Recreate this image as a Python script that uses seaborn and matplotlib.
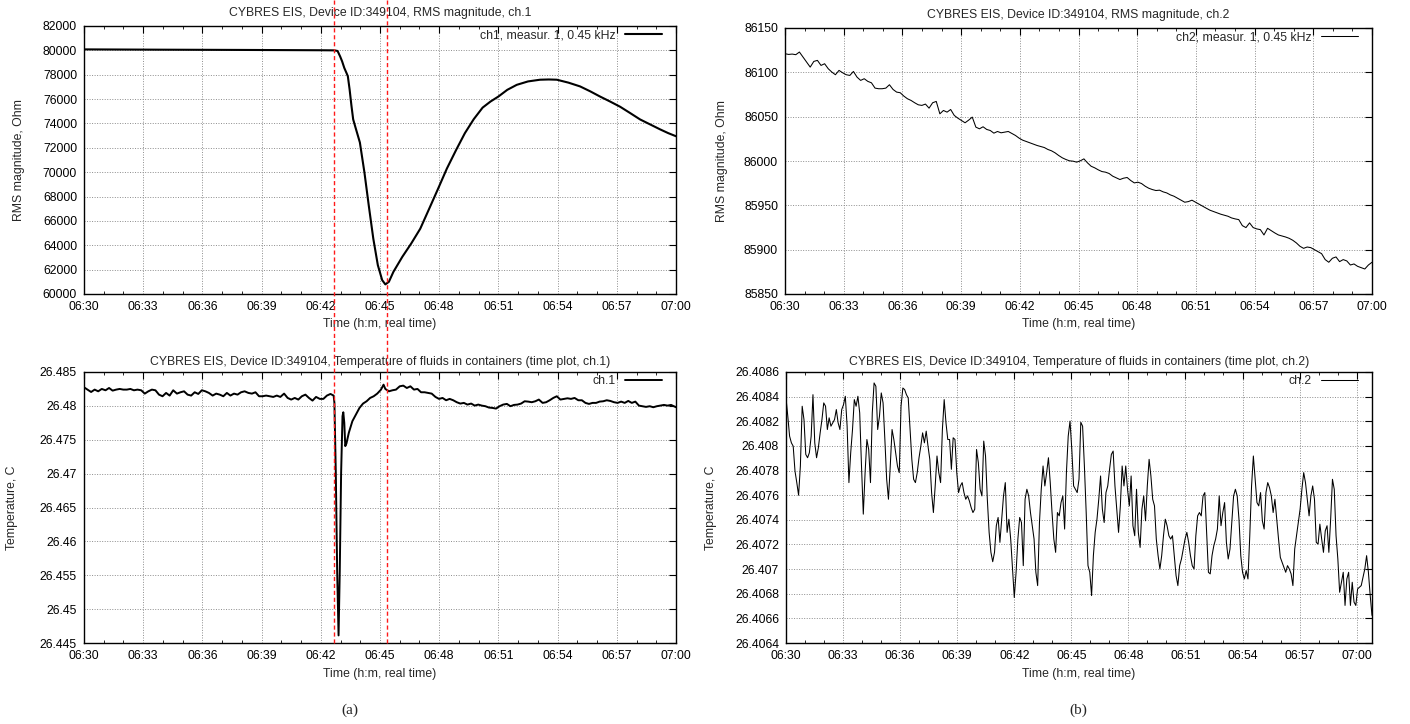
import numpy as np
import pandas as pd
import matplotlib
matplotlib.use("Agg")
import matplotlib.pyplot as plt
import matplotlib.dates as mdates
import matplotlib.ticker as mticker
import matplotlib.transforms as mtransforms
from matplotlib.lines import Line2D
import seaborn as sns

# ---------------- data ----------------
start_time = pd.Timestamp("2024-01-01 06:30:00")

# ch.1 RMS magnitude, minutes after 06:30
ch1_rms_min = [0.00, 4.00, 8.00, 12.00, 12.69, 12.85, 12.98, 13.08, 13.19, 13.30,
               13.37, 13.46, 13.55, 13.64, 13.76, 13.98, 14.21, 14.43, 14.66, 14.89,
               15.11, 15.27, 15.45, 15.68, 16.13, 16.58, 17.04, 17.49, 17.94, 18.39,
               18.85, 19.30, 19.75, 20.20, 20.60, 21.00, 21.45, 21.93, 22.50, 23.11,
               23.55, 23.96, 24.55, 25.14, 25.65, 26.15, 26.66, 27.17, 27.67, 28.18,
               28.69, 29.20, 29.60, 30.00]
ch1_rms_ohm = [80080, 80055, 80035, 80010, 80000, 79950, 79500, 79100, 78560, 78150,
               77880, 76790, 75500, 74340, 73660, 72440, 69990, 67270, 64550, 62370,
               61140, 60790, 61000, 61820, 63050, 64140, 65360, 66990, 68630, 70300,
               71800, 73200, 74350, 75300, 75800, 76210, 76760, 77170, 77450, 77590,
               77610, 77590, 77350, 77040, 76640, 76210, 75800, 75370, 74860, 74330,
               73920, 73510, 73210, 72950]

# ch.1 temperature, minutes after 06:30
ch1_temp_min = [0.00, 0.18, 0.36, 0.54, 0.72, 0.90, 1.09, 1.27, 1.45, 1.63,
                1.81, 1.99, 2.17, 2.35, 2.53, 2.71, 2.90, 3.08, 3.26, 3.44,
                3.62, 3.80, 3.98, 4.16, 4.34, 4.52, 4.71, 4.89, 5.07, 5.25,
                5.43, 5.61, 5.79, 5.97, 6.15, 6.33, 6.52, 6.70, 6.88, 7.06,
                7.24, 7.42, 7.60, 7.78, 7.96, 8.14, 8.33, 8.51, 8.69, 8.87,
                9.05, 9.23, 9.41, 9.59, 9.77, 9.95, 10.14, 10.32, 10.50, 10.68,
                10.86, 11.04, 11.22, 11.40, 11.58, 11.76, 11.95, 12.13, 12.31, 12.49,
                12.65, 12.69, 12.76, 12.83, 12.90, 12.96, 13.03, 13.10, 13.14, 13.19,
                13.24, 13.30, 13.42, 13.60, 13.78, 13.96, 14.14, 14.32, 14.50, 14.68,
                14.86, 15.05, 15.18, 15.27, 15.45, 15.63, 15.81, 16.00, 16.18, 16.36,
                16.54, 16.72, 16.90, 17.08, 17.26, 17.44, 17.62, 17.81, 17.99, 18.17,
                18.35, 18.53, 18.71, 18.89, 19.07, 19.25, 19.43, 19.62, 19.80, 19.98,
                20.16, 20.34, 20.52, 20.70, 20.88, 21.06, 21.24, 21.43, 21.61, 21.79,
                21.97, 22.15, 22.33, 22.51, 22.69, 22.87, 23.05, 23.24, 23.42, 23.60,
                23.78, 23.96, 24.14, 24.32, 24.50, 24.68, 24.86, 25.05, 25.23, 25.41,
                25.59, 25.77, 25.95, 26.13, 26.31, 26.49, 26.67, 26.86, 27.04, 27.22,
                27.40, 27.58, 27.76, 27.94, 28.12, 28.30, 28.48, 28.67, 28.85, 29.03,
                29.21, 29.39, 29.57, 29.75, 30.00]
ch1_temp_c = [26.48274, 26.48240, 26.48205, 26.48240, 26.48215, 26.48250, 26.48230, 26.48264, 26.48225, 26.48240,
              26.48250, 26.48240, 26.48240, 26.48250, 26.48230, 26.48240, 26.48230, 26.48181, 26.48215, 26.48240,
              26.48230, 26.48166, 26.48142, 26.48191, 26.48152, 26.48230, 26.48181, 26.48201, 26.48215, 26.48166,
              26.48152, 26.48201, 26.48176, 26.48230, 26.48215, 26.48191, 26.48152, 26.48181, 26.48166, 26.48142,
              26.48191, 26.48152, 26.48181, 26.48166, 26.48201, 26.48215, 26.48191, 26.48181, 26.48201, 26.48142,
              26.48142, 26.48152, 26.48142, 26.48132, 26.48152, 26.48132, 26.48181, 26.48117, 26.48093, 26.48117,
              26.48093, 26.48142, 26.48166, 26.48117, 26.48078, 26.48132, 26.48103, 26.48103, 26.48152, 26.48176,
              26.48152, 26.48044, 26.47014, 26.45544, 26.44612, 26.45544, 26.47014, 26.47848, 26.47906, 26.47750,
              26.47406, 26.47446, 26.47603, 26.47774, 26.47872, 26.47970, 26.48034, 26.48068, 26.48117, 26.48142,
              26.48181, 26.48240, 26.48313, 26.48250, 26.48215, 26.48230, 26.48240, 26.48289, 26.48299, 26.48264,
              26.48289, 26.48240, 26.48250, 26.48201, 26.48201, 26.48191, 26.48181, 26.48132, 26.48103, 26.48117,
              26.48083, 26.48103, 26.48083, 26.48054, 26.48034, 26.48044, 26.48019, 26.48034, 26.48004, 26.48019,
              26.48004, 26.47995, 26.47975, 26.47970, 26.47960, 26.47995, 26.48019, 26.48029, 26.47995, 26.48014,
              26.48019, 26.48034, 26.48068, 26.48063, 26.48054, 26.48068, 26.48093, 26.48044, 26.48054, 26.48083,
              26.48117, 26.48142, 26.48093, 26.48103, 26.48112, 26.48103, 26.48117, 26.48083, 26.48083, 26.48044,
              26.48029, 26.48044, 26.48044, 26.48063, 26.48068, 26.48083, 26.48073, 26.48054, 26.48044, 26.48063,
              26.48044, 26.48073, 26.48044, 26.48063, 26.48004, 26.47995, 26.47985, 26.47995, 26.47980, 26.47995,
              26.48004, 26.48014, 26.48004, 26.48014, 26.47980]

# ch.2 RMS magnitude, regular samples from 06:30
ch2_rms_sample_s = 11.043
ch2_rms_ohm = [86121.0, 86120.2, 86120.6, 86119.9, 86122.9, 86117.2, 86111.6, 86105.9, 86112.3, 86113.5,
               86107.8, 86109.7, 86104.1, 86100.3, 86097.3, 86102.2, 86099.5, 86097.3, 86096.5, 86101.0,
               86094.6, 86090.9, 86092.8, 86089.8, 86088.2, 86082.2, 86081.5, 86081.5, 86082.2, 86086.0,
               86080.7, 86077.7, 86077.0, 86073.2, 86070.2, 86068.3, 86065.7, 86063.4, 86062.7, 86064.2,
               86059.6, 86065.7, 86067.2, 86053.2, 86057.0, 86055.1, 86058.1, 86051.4, 86048.3, 86045.7,
               86043.1, 86046.1, 86049.5, 86038.2, 86036.3, 86038.6, 86035.6, 86034.4, 86031.4, 86033.3,
               86031.8, 86032.5, 86033.3, 86031.0, 86028.8, 86025.8, 86023.5, 86022.0, 86020.5, 86019.0,
               86017.5, 86016.4, 86015.2, 86013.0, 86011.5, 86009.2, 86006.2, 86003.6, 86001.7, 86000.2,
               85999.8, 85998.7, 86000.2, 86002.4, 85997.9, 85994.1, 85992.3, 85990.0, 85988.1, 85987.4,
               85985.9, 85982.9, 85981.0, 85979.1, 85980.6, 85981.4, 85978.0, 85975.3, 85976.1, 85974.6,
               85971.6, 85969.3, 85967.8, 85966.7, 85967.1, 85965.2, 85964.0, 85961.8, 85960.3, 85958.0,
               85955.8, 85953.5, 85954.2, 85955.8, 85953.5, 85951.2, 85949.0, 85946.7, 85944.5, 85943.0,
               85941.5, 85940.0, 85938.8, 85937.7, 85935.8, 85934.7, 85933.9, 85927.1, 85924.9, 85930.2,
               85924.9, 85923.4, 85922.6, 85916.6, 85924.1, 85921.5, 85918.9, 85916.6, 85915.5, 85914.3,
               85912.8, 85910.6, 85907.6, 85903.8, 85901.5, 85903.0, 85902.3, 85900.0, 85897.8, 85895.5,
               85888.8, 85885.8, 85890.3, 85891.8, 85886.5, 85888.8, 85887.3, 85882.7, 85883.9, 85881.2,
               85879.7, 85878.2, 85882.7, 85885.8]

# ch.2 temperature, regular samples from 06:30
ch2_temp_sample_s = 5.67
ch2_temp_c = [
    26.408389, 26.408241, 26.408079, 26.408025, 26.407998, 26.407796, 26.407702, 26.407600, 26.407837, 26.408322,
    26.408214, 26.407931, 26.407904, 26.407945, 26.408079, 26.408416, 26.408025, 26.407904, 26.407985, 26.408106,
    26.408214, 26.408349, 26.408322, 26.408133, 26.408228, 26.408160, 26.408187, 26.408214, 26.408295, 26.408187,
    26.408133, 26.408295, 26.408335, 26.408403, 26.408160, 26.407702, 26.407945, 26.408133, 26.408376, 26.408322,
    26.408403, 26.408268, 26.407837, 26.407446, 26.407783, 26.408052, 26.407971, 26.407702, 26.408268, 26.408511,
    26.408484, 26.408133, 26.408241, 26.408430, 26.408349, 26.408052, 26.407729, 26.407567, 26.407837, 26.408133,
    26.408052, 26.407945, 26.407837, 26.407783, 26.408322, 26.408470, 26.408457, 26.408416, 26.408389, 26.408133,
    26.407891, 26.407729, 26.407702, 26.407783, 26.407904, 26.407998, 26.408106, 26.408025, 26.408120, 26.407998,
    26.407891, 26.407621, 26.407459, 26.407675, 26.407918, 26.407783, 26.407702, 26.408133, 26.408376, 26.408187,
    26.408052, 26.408052, 26.407810, 26.408066, 26.408052, 26.407783, 26.407621, 26.407675, 26.407702, 26.407621,
    26.407567, 26.407594, 26.407554, 26.407500, 26.407459, 26.407486, 26.407971, 26.407864, 26.407648, 26.407594,
    26.408039, 26.407918, 26.407567, 26.407298, 26.407136, 26.407060, 26.407136, 26.407352, 26.407419, 26.407217,
    26.407405, 26.407594, 26.407702, 26.407298, 26.407405, 26.407244, 26.407001, 26.406769, 26.406974, 26.407244,
    26.407419, 26.407378, 26.407028, 26.407567, 26.407648, 26.407594, 26.407459, 26.407352, 26.407244, 26.406974,
    26.406866, 26.407378, 26.407648, 26.407837, 26.407675, 26.407783, 26.407904, 26.407702, 26.407459, 26.407244,
    26.407136, 26.407459, 26.407432, 26.407540, 26.407594, 26.407325, 26.407783, 26.408079, 26.408201, 26.407971,
    26.407675, 26.407648, 26.407621, 26.407729, 26.408192, 26.408160, 26.407837, 26.407459, 26.407028, 26.406974,
    26.406785, 26.407109, 26.407298, 26.407405, 26.407567, 26.407756, 26.407486, 26.407378, 26.407621, 26.407675,
    26.407810, 26.407931, 26.407958, 26.407675, 26.407486, 26.407298, 26.407513, 26.407837, 26.407675, 26.407837,
    26.407648, 26.407513, 26.407756, 26.407352, 26.407271, 26.407648, 26.407298, 26.407176, 26.407486, 26.407594,
    26.407392, 26.407675, 26.407891, 26.407756, 26.407567, 26.407513, 26.407244, 26.407109, 26.407001, 26.407109,
    26.407271, 26.407405, 26.407352, 26.407271, 26.407244, 26.407271, 26.407109, 26.406947, 26.406866, 26.407028,
    26.407082, 26.407163, 26.407244, 26.407298, 26.407217, 26.407109, 26.407028, 26.407001, 26.407271, 26.407432,
    26.407459, 26.407432, 26.407594, 26.407621, 26.407298, 26.406974, 26.406961, 26.407109, 26.407190, 26.407244,
    26.407325, 26.407594, 26.407352, 26.407459, 26.407540, 26.407217, 26.407082, 26.407163, 26.407378, 26.407594,
    26.407648, 26.407594, 26.407405, 26.407109, 26.406974, 26.406920, 26.406988, 26.406920, 26.407271, 26.407675,
    26.407918, 26.407729, 26.407540, 26.407513, 26.407621, 26.407392, 26.407325, 26.407621, 26.407702, 26.407661,
    26.407594, 26.407459, 26.407567, 26.407405, 26.407244, 26.407095, 26.407055, 26.407015, 26.406974, 26.407028,
    26.407001, 26.406961, 26.406866, 26.407163, 26.407271, 26.407378, 26.407486, 26.407648, 26.407783, 26.407702,
    26.407567, 26.407432, 26.407594, 26.407675, 26.407567, 26.407217, 26.407203, 26.407365, 26.407244, 26.407136,
    26.407311, 26.407352, 26.407136, 26.407405, 26.407729, 26.407648, 26.407271, 26.407082, 26.406812, 26.406893,
    26.406974, 26.406705, 26.406920, 26.406974, 26.406705, 26.406893, 26.406732, 26.406705, 26.406839, 26.406853,
    26.406866, 26.406934, 26.407001, 26.407109, 26.406974, 26.406785, 26.406624]

# event markers (minutes after 06:30)
event_min = [12.69, 15.33]

# axis ticks / labels
tl_yticks = [60000, 62000, 64000, 66000, 68000, 70000, 72000, 74000, 76000, 78000, 80000, 82000]
bl_yticks = [26.445, 26.45, 26.455, 26.46, 26.465, 26.47, 26.475, 26.48, 26.485]
tr_yticks = [85850, 85900, 85950, 86000, 86050, 86100, 86150]
br_yticks = [26.4064, 26.4066, 26.4068, 26.407, 26.4072, 26.4074, 26.4076, 26.4078,
             26.408, 26.4082, 26.4084, 26.4086]

titles = ["CYBRES EIS, Device ID:349104, RMS magnitude, ch.1",
          "CYBRES EIS, Device ID:349104, Temperature of fluids in containers (time plot, ch.1)",
          "CYBRES EIS, Device ID:349104, RMS magnitude, ch.2",
          "CYBRES EIS, Device ID:349104, Temperature of fluids in containers (time plot, ch.2)"]
legend_labels = ["ch1, measur. 1, 0.45 kHz", "ch.1", "ch2, measur. 1, 0.45 kHz", "ch.2"]
xlabel_text = "Time (h:m, real time)"
ylabels = ["RMS magnitude, Ohm", "Temperature, C", "RMS magnitude, Ohm", "Temperature, C"]

# ---------------- build frames ----------------
def minutes_to_time(mins):
    return start_time + pd.to_timedelta(np.asarray(mins, dtype=float), unit="min")

df_tl = pd.DataFrame({"time": minutes_to_time(ch1_rms_min), "value": ch1_rms_ohm})
df_bl = pd.DataFrame({"time": minutes_to_time(ch1_temp_min), "value": ch1_temp_c})
df_tr = pd.DataFrame({"time": start_time + pd.to_timedelta(np.arange(len(ch2_rms_ohm)) * ch2_rms_sample_s, unit="s"),
                      "value": ch2_rms_ohm})
df_br = pd.DataFrame({"time": start_time + pd.to_timedelta(np.arange(len(ch2_temp_c)) * ch2_temp_sample_s, unit="s"),
                      "value": ch2_temp_c})

# ---------------- style ----------------
sns.set_theme(style="white")
plt.rcParams["font.family"] = ["Liberation Sans", "DejaVu Sans"]
plt.rcParams["axes.unicode_minus"] = False

W, H = 1410, 724
fig = plt.figure(figsize=(W / 100, H / 100), dpi=100)
fig.patch.set_facecolor("white")

def px_axes(left, top, right, bottom):
    return fig.add_axes([left / W, 1 - bottom / H, (right - left) / W, (bottom - top) / H])

ax_tl = px_axes(84, 26, 676, 294)
ax_bl = px_axes(84, 372, 676, 643)
ax_tr = px_axes(785, 28, 1372, 294)
ax_br = px_axes(786, 372, 1372, 643)

FS = 8.8
panels = [
    (ax_tl, df_tl, 1.5, tl_yticks, 0, -0.100),
    (ax_bl, df_bl, 1.4, bl_yticks, 1, -0.111),
    (ax_tr, df_tr, 0.75, tr_yticks, 2, -0.097),
    (ax_br, df_br, 0.75, br_yticks, 3, -0.118),
]

for ax, df, lw, yt, i, ylx in panels:
    sns.lineplot(data=df, x="time", y="value", ax=ax, color="black", linewidth=lw,
                 estimator=None, sort=False, label=legend_labels[i])
    ax.set_facecolor("white")
    ax.set_ylim(yt[0], yt[-1])
    ax.set_yticks(yt)
    ax.yaxis.set_major_formatter(mticker.FuncFormatter(lambda v, p: f"{v:g}"))
    ax.xaxis.set_major_locator(mdates.MinuteLocator(byminute=range(0, 60, 3)))
    ax.xaxis.set_minor_locator(mdates.MinuteLocator())
    ax.xaxis.set_major_formatter(mdates.DateFormatter("%H:%M"))
    ax.tick_params(axis="both", which="major", direction="in", length=5, width=0.8,
                   top=True, right=True, labelsize=FS, colors="black", pad=5)
    ax.tick_params(axis="x", which="minor", direction="in", length=2.5, width=0.7,
                   top=True, bottom=True)
    for sp in ax.spines.values():
        sp.set_visible(True)
        sp.set_color("black")
        sp.set_linewidth(1.0)
    ax.grid(True, which="major", color="#8c8c8c", linestyle=(0, (1, 1.6)), linewidth=0.7)
    ax.set_axisbelow(True)
    ax.set_title(titles[i], fontsize=FS, pad=7 if i in (0, 2) else 5)
    ax.set_xlabel(xlabel_text, fontsize=FS, labelpad=4)
    ax.set_ylabel(ylabels[i], fontsize=FS)
    ax.yaxis.set_label_coords(ylx, 0.5)
    ax_w = ax.get_position().width * W
    ax_h = ax.get_position().height * H
    leg = ax.legend(loc="upper right", bbox_to_anchor=(1 - 14 / ax_w, 1 - 3 / ax_h),
                    frameon=False, markerfirst=False, fontsize=FS, handlelength=3.0,
                    handletextpad=0.8, borderpad=0, borderaxespad=0)

x_end_full = start_time + pd.Timedelta(minutes=30)
for ax in (ax_tl, ax_bl, ax_tr):
    ax.set_xlim(start_time, x_end_full)
ax_br.set_xlim(start_time, df_br["time"].iloc[-1])

# red dashed event lines spanning both left panels
trans = mtransforms.blended_transform_factory(ax_tl.transData, fig.transFigure)
for m in event_min:
    xv = mdates.date2num(start_time + pd.Timedelta(minutes=m))
    fig.add_artist(Line2D([xv, xv], [1.0, 1 - 643 / H], transform=trans, color="#ff1a1a",
                          linestyle=(0, (3, 2)), linewidth=1.0, zorder=10))

fig.text(350 / W, 1 - 710 / H, "(a)", ha="center", va="center",
         family=["Liberation Serif", "DejaVu Serif"], fontsize=11)
fig.text(1078 / W, 1 - 710 / H, "(b)", ha="center", va="center",
         family=["Liberation Serif", "DejaVu Serif"], fontsize=11)

fig.savefig("out.png", dpi=100, facecolor="white")
